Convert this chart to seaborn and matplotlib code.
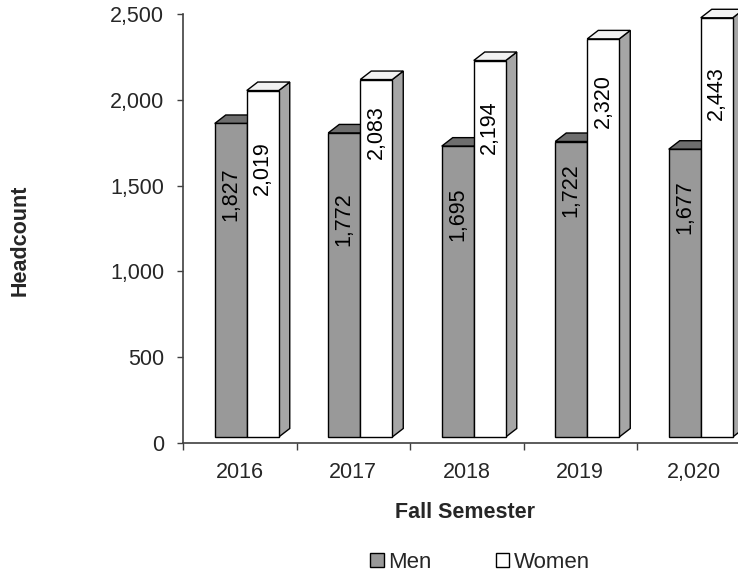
import matplotlib
matplotlib.use("Agg")
import matplotlib.pyplot as plt
import seaborn as sns
import pandas as pd
from matplotlib.transforms import Affine2D
from matplotlib.patches import Polygon, Patch
from matplotlib.ticker import StrMethodFormatter, FixedLocator

# ---- data ----
years = ["2016", "2017", "2018", "2019", "2,020"]
men = [1827, 1772, 1695, 1722, 1677]
women = [2019, 2083, 2194, 2320, 2443]
series = ["Men", "Women"]

# label placement (px below bar top) -- style only
men_label_gap = [44, 59, 41, 22, 31]
women_label_gap = [51, 26, 40, 35, 48]

df = pd.DataFrame({
    "Year": years * 2,
    "Headcount": men + women,
    "Sex": ["Men"] * len(men) + ["Women"] * len(women),
})

sns.set_theme(style="white")
plt.rcParams['font.family'] = ['Liberation Sans', 'DejaVu Sans']

FS = 15.5
front_cols = {"Men": "#999999", "Women": "#ffffff"}
top_cols = {"Men": "#6e6e6e", "Women": "#f2f2f2"}
side_cols = {"Men": "#7a7a7a", "Women": "#a6a6a6"}

fig = plt.figure(figsize=(7.38, 5.73), dpi=100)
ax = fig.add_axes([183 / 738, 130 / 573, 567.5 / 738, 429 / 573])

sns.barplot(data=df, x="Year", y="Headcount", hue="Sex", hue_order=series,
            palette=front_cols, width=0.564, edgecolor="black", linewidth=1.0,
            saturation=1, legend=False, ax=ax, err_kws={"linewidth": 0})

ax.set_xlim(-0.5, len(years) - 0.5)
ax.set_ylim(0, 2500)
fig.canvas.draw()

# pixel <-> data conversions
p0 = ax.transData.transform((0, 0))
px_x = ax.transData.transform((1, 0))[0] - p0[0]
px_y = ax.transData.transform((0, 1))[1] - p0[1]
FRONT_DX, FRONT_DY = 7, 6      # front face shift (px)
DEPTH_DX, DEPTH_DY = 11, 8.5   # 3D depth (px)
ddx = DEPTH_DX / px_x
ddy = DEPTH_DY / px_y
front_tr = ax.transData + Affine2D().translate(FRONT_DX, FRONT_DY)

gaps = {"Men": men_label_gap, "Women": women_label_gap}
for s_idx, (name, cont) in enumerate(zip(series, ax.containers)):
    base_z = 3 + s_idx
    for i, bar in enumerate(cont):
        x0 = bar.get_x()
        w = bar.get_width()
        h = bar.get_height()
        x1 = x0 + w
        bar.set_transform(front_tr)
        bar.set_clip_on(False)
        bar.set_zorder(base_z + 0.5)
        side = Polygon([(x1, 0), (x1 + ddx, ddy), (x1 + ddx, h + ddy), (x1, h)],
                       closed=True, facecolor=side_cols[name], edgecolor="black",
                       linewidth=1.0, transform=front_tr, clip_on=False, zorder=base_z)
        top = Polygon([(x0, h), (x1, h), (x1 + ddx, h + ddy), (x0 + ddx, h + ddy)],
                      closed=True, facecolor=top_cols[name], edgecolor="black",
                      linewidth=1.0, transform=front_tr, clip_on=False, zorder=base_z)
        ax.add_patch(side)
        ax.add_patch(top)
        ax.text(x0 + w / 2, h, f"{int(h):,}", rotation=90, ha="center", va="top",
                fontsize=FS, color="black", clip_on=False, zorder=base_z + 0.6,
                transform=ax.transData + Affine2D().translate(FRONT_DX, FRONT_DY - gaps[name][i]))

# axes styling
for sp in ["top", "right"]:
    ax.spines[sp].set_visible(False)
for sp in ["left", "bottom"]:
    ax.spines[sp].set_color("#404040")
    ax.spines[sp].set_linewidth(1.2)
ax.set_facecolor("white")
ax.grid(False)

ax.set_yticks([0, 500, 1000, 1500, 2000, 2500])
ax.yaxis.set_major_formatter(StrMethodFormatter("{x:,.0f}"))
ax.tick_params(axis="y", which="major", direction="out", length=4.5, width=1,
               color="#404040", pad=9, labelsize=FS, left=True)

ax.xaxis.set_major_locator(FixedLocator([i - 0.5 for i in range(len(years) + 1)]))
ax.xaxis.set_minor_locator(FixedLocator(list(range(len(years)))))
ax.set_xticklabels([""] * (len(years) + 1))
ax.set_xticklabels(years, minor=True)
ax.tick_params(axis="x", which="major", direction="out", length=5, width=1,
               color="#404040", bottom=True)
ax.tick_params(axis="x", which="minor", length=0, pad=14, labelsize=FS, bottom=True)

ax.set_xlabel("")
ax.set_ylabel("")
fig.text(465 / 738, 1 - 513 / 573, "Fall Semester", ha="center", va="center",
         fontsize=FS, fontweight="bold")
fig.text(20 / 738, 1 - 240 / 573, "Headcount", ha="center", va="center",
         rotation=90, fontsize=FS, fontweight="bold")

handles = [Patch(facecolor=front_cols[s], edgecolor="black", linewidth=1.0) for s in series]
fig.legend(handles, series, loc="center", bbox_to_anchor=(480 / 738, 1 - 562 / 573),
           ncol=2, frameon=False, fontsize=16, handlelength=0.6, handleheight=0.6,
           handletextpad=0.2, columnspacing=2.9, borderaxespad=0)

fig.savefig("out.png", dpi=100, facecolor="white")
